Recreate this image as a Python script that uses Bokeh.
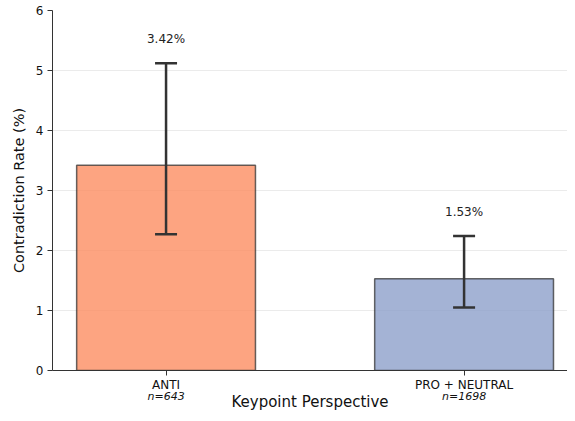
from bokeh.plotting import figure
from bokeh.models import ColumnDataSource, Whisker, FixedTicker, LinearAxis, Range1d, TeeHead
from bokeh.embed import file_html
from bokeh.resources import INLINE
from bokeh.core.properties import value

categories = ["ANTI", "PRO + NEUTRAL"]
n_labels = ["n=643", "n=1698"]
rates = [3.42, 1.53]
ci_lower = [2.27, 1.05]
ci_upper = [5.12, 2.24]
colors = ["#FC8D62", "#8DA0CB"]
y_ticks = [0, 1, 2, 3, 4, 5, 6]

FONT = "DejaVu Sans"
x = list(range(len(categories)))
src = ColumnDataSource(dict(
    x=x, top=rates, lower=ci_lower, upper=ci_upper, color=colors,
    label=[f"{r:.2f}%" for r in rates],
    label_y=[u + 0.4 for u in ci_upper],
))

p = figure(width=567, height=413, output_backend="svg", toolbar_location=None,
           x_range=Range1d(-0.381, 1.347), y_range=Range1d(0, 6),
           min_border_left=52, min_border_right=0, min_border_top=10, min_border_bottom=40)
p.outline_line_color = None
p.background_fill_color = "white"
p.border_fill_color = "white"

p.xgrid.visible = False
p.ygrid.grid_line_color = "#ebebeb"
p.ygrid.grid_line_width = 1
p.ygrid.ticker = FixedTicker(ticks=y_ticks)

p.vbar(x="x", top="top", bottom=0, width=0.6, source=src, fill_color="color",
       fill_alpha=0.8, line_color="#333333", line_alpha=0.75, line_width=1.5)

w = Whisker(base="x", upper="upper", lower="lower", source=src,
            line_color="#333333", line_width=2.5, level="annotation",
            upper_head=TeeHead(size=22, line_color="#333333", line_width=2.5),
            lower_head=TeeHead(size=22, line_color="#333333", line_width=2.5))
p.add_layout(w)

p.text(x="x", y="label_y", text="label", source=src, text_align="center",
       text_baseline="middle", text_font=value(FONT), text_font_size="12px",
       text_color="#222222")

# y axis
ya = p.yaxis[0]
ya.ticker = FixedTicker(ticks=y_ticks)
ya.axis_label = "Contradiction Rate (%)"
ya.axis_label_text_font = FONT
ya.axis_label_text_font_style = "normal"
ya.axis_label_text_font_size = "14.5px"
ya.axis_label_text_color = "#111111"
ya.axis_label_standoff = 6
ya.major_label_text_font = FONT
ya.major_label_text_font_size = "12px"
ya.major_label_text_color = "#111111"
ya.major_label_standoff = 4
ya.major_tick_out = 5
ya.major_tick_in = 0
ya.minor_tick_line_color = None
ya.axis_line_color = "#333333"
ya.major_tick_line_color = "#333333"

# x axis: category names
xa = p.xaxis[0]
xa.ticker = FixedTicker(ticks=x)
xa.major_label_overrides = {i: c for i, c in zip(x, categories)}
xa.major_label_text_font = FONT
xa.major_label_text_font_size = "12px"
xa.major_label_text_color = "#111111"
xa.major_label_standoff = 2
xa.major_tick_out = 5
xa.major_tick_in = 0
xa.minor_tick_line_color = None
xa.axis_line_color = "#333333"
xa.major_tick_line_color = "#333333"

# second x axis: sample sizes + axis title
xa2 = LinearAxis(ticker=FixedTicker(ticks=x))
xa2.major_label_overrides = {i: n for i, n in zip(x, n_labels)}
xa2.major_label_text_font = FONT
xa2.major_label_text_font_size = "11px"
xa2.major_label_text_font_style = "italic"
xa2.major_label_text_color = "#111111"
xa2.major_label_standoff = -5
xa2.major_tick_out = 0
xa2.major_tick_in = 0
xa2.minor_tick_line_color = None
xa2.axis_line_color = None
xa2.major_tick_line_color = None
xa2.axis_label = "Keypoint Perspective"
xa2.axis_label_text_font = FONT
xa2.axis_label_text_font_style = "normal"
xa2.axis_label_text_font_size = "15px"
xa2.axis_label_text_color = "#111111"
xa2.axis_label_standoff = -13
p.add_layout(xa2, "below")

open("out.html", "w").write(file_html(p, INLINE))
